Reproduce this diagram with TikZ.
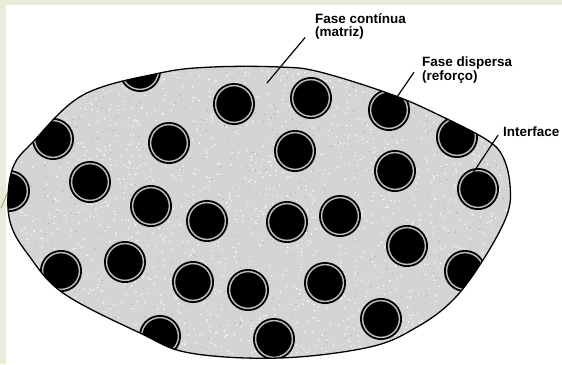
\documentclass[tikz,border=0pt]{standalone}
\usepackage{fontspec}
\setmainfont{Liberation Sans}

\definecolor{slidebg}{RGB}{232,236,216}
\definecolor{matrixgray}{RGB}{212,212,212}
\definecolor{ringgray}{RGB}{190,190,190}
\definecolor{markolive}{RGB}{170,160,110}

\begin{document}
\begin{tikzpicture}[
		x=0.03cm, y=-0.03cm,
		line cap=round,
		line join=round,
		phaselabel/.style={font=\fontsize{11.5}{11.5}\selectfont\bfseries, align=left, inner sep=0pt, anchor=north west},
		leader/.style={line width=1pt},
		interface/.style={draw=ringgray, line width=1.2pt}
		]
		% =========================
		% Slide background
		% =========================
		\useasboundingbox (0,0) rectangle (562,364);
		\fill[white] (0,0) rectangle (562,364);
		\fill[slidebg] (0,0) rectangle (562,5);
		\fill[slidebg] (0,0) rectangle (6,364);
		\draw[markolive, line width=0.8pt] (8,192) -- (1,208);
		
		% --------------------------------
		% Outline of the composite
		% --------------------------------
		\def\blobpath{plot[smooth cycle, tension=0.6] coordinates {
				(8,195) (14,165) (32,143) (83,95) (160,73) (213,67) (280,67)
				(320,72) (393,95) (443,117) (487,140) (503,157) (510,185)
				(507,215) (483,260) (453,300) (417,327) (370,347) (280,358)
				(190,353) (140,333) (63,293) (27,253) (11,225)}}
		
		\fill[matrixgray] \blobpath;
		
		% --------------------------------
		% Matrix grain and dispersed phase, clipped
		% --------------------------------
		\begin{scope}
			\clip \blobpath;
			\pgfmathsetseed{17}
			\foreach \i in {1,...,1800}
			{
				\pgfmathsetmacro{\sx}{8+502*rnd}
				\pgfmathsetmacro{\sy}{66+293*rnd}
				\fill[white] (\sx,\sy) circle[radius=0.8];
			}
			\foreach \i in {1,...,700}
			{
				\pgfmathsetmacro{\sx}{8+502*rnd}
				\pgfmathsetmacro{\sy}{66+293*rnd}
				\fill[gray!70] (\sx,\sy) circle[radius=0.6];
			}
			
			\foreach \x/\y in {
				140/71, 234/104, 311/98, 389/110, 457/137,
				53/139, 169/143, 295/151, 395/171, 478/189,
				90/182, 9/191, 151/206, 207/221, 287/222,
				340/216, 407/246, 125/262, 61/271, 193/282,
				248/290, 325/283, 465/271, 381/319, 160/336,
				274/339
			}
			{
				\fill[black] (\x,\y) circle[radius=21];
				\draw[interface] (\x,\y) circle[radius=18.4];
			}
		\end{scope}
		
		\draw[line width=1.1pt] \blobpath;
		
		% --------------------------------
		% Labels
		% --------------------------------
		\node[phaselabel] (lblmatriz) at (315,13) {Fase contínua\\(matriz)};
		\node[phaselabel] (lbldispersa) at (422,57) {Fase dispersa\\(reforço)};
		\node[phaselabel] (lblinterface) at (503,127) {Interface};
		
		\coordinate (pmatriz) at (267,83);
		\coordinate (pdispersa) at (397,97);
		\coordinate (pinterface) at (473,173);
		
		\draw[leader] ([shift={(-10,-2)}]lblmatriz.south west) -- (pmatriz);
		\draw[leader] ([shift={(-8,2)}]lbldispersa.west) -- (pdispersa);
		\draw[leader] ([shift={(-5,3)}]lblinterface.west) -- (pinterface);
		
	\end{tikzpicture}
\end{document}
